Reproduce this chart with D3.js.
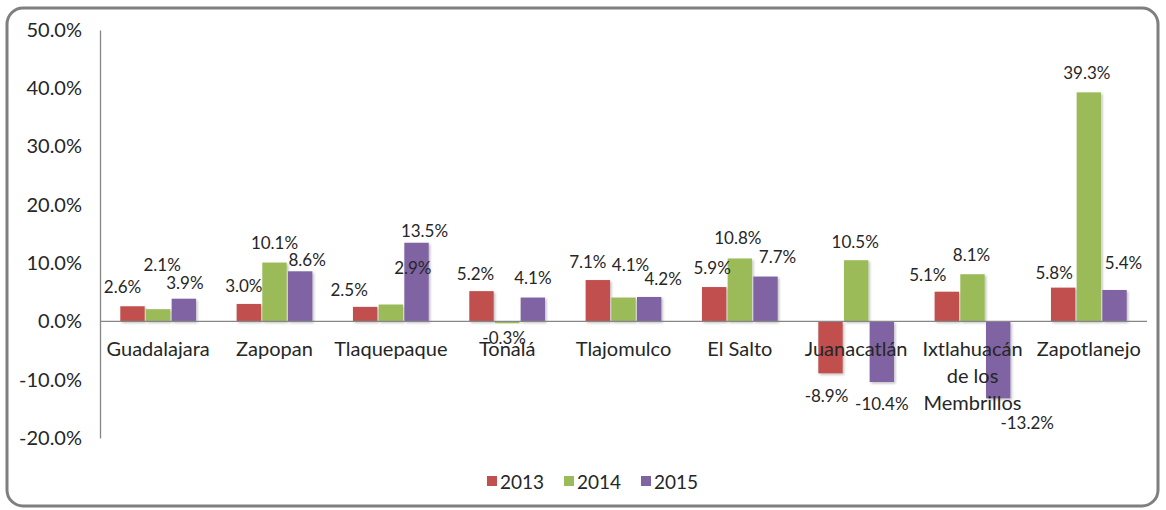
<!DOCTYPE html>
<html>
<head>
<meta charset="utf-8">
<script src="https://cdn.jsdelivr.net/npm/d3@7"></script>
<style>
  body { margin: 0; background: #fff; }
  text { font-family: Lato, "Open Sans", sans-serif; fill: #262626; }
</style>
</head>
<body>
<div id="chart"></div>
<script>
// data
const municipios = ["Guadalajara", "Zapopan", "Tlaquepaque", "Tonalá", "Tlajomulco",
                    "El Salto", "Juanacatlán", "Ixtlahuacán de los Membrillos", "Zapotlanejo"];
const years = ["2013", "2014", "2015"];
const v2013 = [2.6, 3.0, 2.5, 5.2, 7.1, 5.9, -8.9, 5.1, 5.8];
const v2014 = [2.1, 10.1, 2.9, -0.3, 4.1, 10.8, 10.5, 8.1, 39.3];
const v2015 = [3.9, 8.6, 13.5, 4.1, 4.2, 7.7, -10.4, -13.2, 5.4];
const yTicks = [-20, -10, 0, 10, 20, 30, 40, 50];
const colors = ["#C0504D", "#9BBB59", "#8064A2"];

// hand-placed label nudges like in the original sheet [dx, dy] per municipio / year
const nudge = [
  [[-10,-10],[4,-35],[1,-6]],
  [[-5,-8],[0,-10],[7,-2]],
  [[-16,-7],[22,-27],[8,-2]],
  [[-6,-8],[-3,2],[0,-10]],
  [[-10,-9],[7,-23],[14,-8]],
  [[-2,-10],[-2,-11],[12,-10]],
  [[-4,10],[-1,-9],[0,9]],
  [[-19,-7],[-1,-10],[29,12]],
  [[-9,-5],[-2,-10],[9,-17]]
];

const width = 1166, height = 510;
const svg = d3.select("#chart").append("svg").attr("width", width).attr("height", height);

const defs = svg.append("defs");
const f = defs.append("filter").attr("id", "shadow").attr("x", "-20%").attr("y", "-20%").attr("width", "150%").attr("height", "150%");
f.append("feDropShadow").attr("dx", 1.5).attr("dy", 1.5).attr("stdDeviation", 1).attr("flood-color", "#000").attr("flood-opacity", 0.25);

// frame
svg.append("rect")
  .attr("x", 7).attr("y", 8).attr("width", 1151).attr("height", 498)
  .attr("rx", 16).attr("ry", 16)
  .attr("fill", "#fff").attr("stroke", "#7f7f7f").attr("stroke-width", 3);

const left = 100, right = 1147;
const y = d3.scaleLinear().domain([-20, 50]).range([438, 30]);
const x0 = d3.scaleBand().domain(municipios).range([left, right]);
const x1 = d3.scaleBand().domain(years).range([0, x0.bandwidth()]).paddingInner(0.05).paddingOuter(0.79);

const series = [v2013, v2014, v2015];
const rows = [];
municipios.forEach((m, i) => {
  years.forEach((yr, j) => rows.push({m, i, yr, j, v: series[j][i]}));
});

// y axis
const yAxis = svg.append("g").attr("transform", `translate(${left},0)`)
  .call(d3.axisLeft(y).tickValues(yTicks).tickSize(0).tickPadding(18).tickFormat(d => d.toFixed(1) + "%"));
yAxis.select(".domain").attr("stroke", "#868686").attr("stroke-width", 1.3);
yAxis.selectAll("text").style("font-size", "20px").attr("fill", "#262626");

// bars
svg.append("g").selectAll("rect")
  .data(rows).enter().append("rect")
  .attr("x", d => x0(d.m) + x1(d.yr))
  .attr("width", x1.bandwidth())
  .attr("y", d => y(Math.max(0, d.v)))
  .attr("height", d => Math.abs(y(d.v) - y(0)))
  .attr("fill", d => colors[d.j])
  .attr("filter", "url(#shadow)");

// x axis line at zero
svg.append("line")
  .attr("x1", left).attr("x2", right)
  .attr("y1", y(0)).attr("y2", y(0))
  .attr("stroke", "#868686").attr("stroke-width", 1.3);

// category labels
const cat = svg.append("g").selectAll("text")
  .data(municipios).enter().append("text")
  .attr("x", d => x0(d) + x0.bandwidth() / 2)
  .attr("y", 356)
  .attr("text-anchor", "middle")
  .style("font-size", "20px");
cat.each(function(d) {
  const t = d3.select(this);
  const lines = d === "Ixtlahuacán de los Membrillos" ? ["Ixtlahuacán", "de los", "Membrillos"] : [d];
  lines.forEach((l, k) => {
    t.append("tspan").attr("x", x0(d) + x0.bandwidth() / 2).attr("dy", k === 0 ? 0 : 27).text(l);
  });
});

// data labels
svg.append("g").selectAll("text")
  .data(rows).enter().append("text")
  .attr("x", d => x0(d.m) + x1(d.yr) + x1.bandwidth() / 2 + nudge[d.i][d.j][0])
  .attr("y", d => (d.v >= 0 ? y(d.v) - 10 : y(d.v) + 12) + nudge[d.i][d.j][1])
  .attr("text-anchor", "middle")
  .attr("dominant-baseline", "central")
  .style("font-size", "17px")
  .text(d => d.v.toFixed(1) + "%");

// legend
const lx = d3.scaleBand().domain(years).range([487, 718]);
const leg = svg.append("g").selectAll("g").data(years).enter().append("g")
  .attr("transform", d => `translate(${lx(d)},476)`);
leg.append("rect").attr("width", 10).attr("height", 10).attr("fill", (d, i) => colors[i]);
leg.append("text").attr("x", 13).attr("y", 5).attr("dominant-baseline", "central")
  .style("font-size", "19px").text(d => d);
</script>
</body>
</html>
